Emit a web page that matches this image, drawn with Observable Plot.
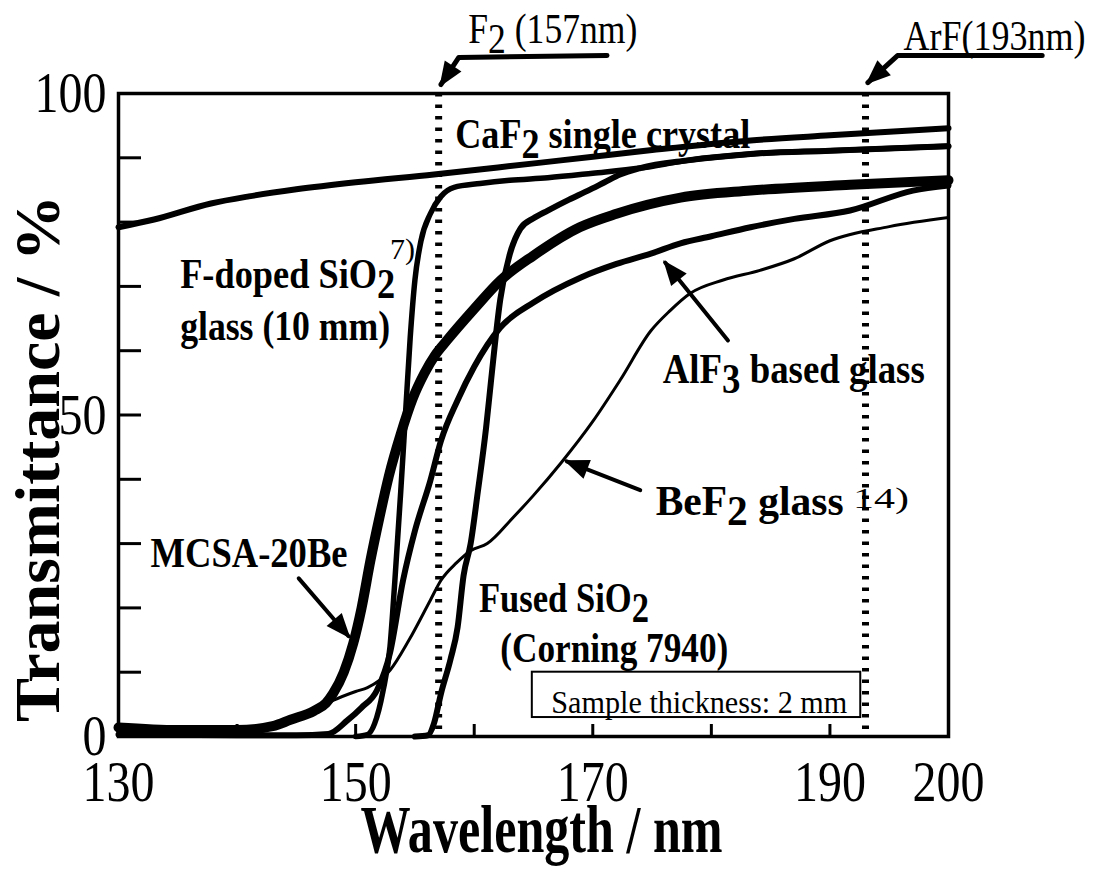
<!DOCTYPE html>
<html>
<head>
<meta charset="utf-8">
<script src="https://cdn.jsdelivr.net/npm/d3@7"></script>
<script src="https://cdn.jsdelivr.net/npm/@observablehq/plot@0.6"></script>
<style>
  html, body { margin: 0; padding: 0; background: #fff; }
  #chart svg { display: block; }
</style>
</head>
<body>
<div id="chart"></div>
<script>
// Vacuum-UV transmittance spectra: wavelength (nm) vs transmittance (%)
const caf2Nm  = [130, 133, 137.8, 141, 145, 150, 156.6, 162, 167.3, 175, 183.3, 190, 200];
const caf2Pct = [79.2, 80.4, 82.9, 84.0, 85.1, 86.2, 87.4, 88.5, 89.6, 91.2, 92.7, 93.5, 94.6];

const fdopedNm  = [150, 151.0, 151.6, 152.3, 152.9, 153.3, 153.8, 154.2, 154.6, 155.0, 155.5, 156.3, 157.2, 158.3, 160.5, 163, 166.2, 170, 174, 178, 183.3, 190, 200];
const fdopedPct = [0, 0.3, 2, 7, 14, 24, 38, 50, 62, 71, 77, 81.3, 84, 85.4, 86.0, 86.5, 86.9, 87.6, 88.4, 89.6, 90.6, 91.1, 91.8];

const fusedNm  = [155, 156.1, 156.6, 157.2, 158.0, 158.6, 159.1, 159.7, 160.3, 161.0, 161.4, 162.2, 163.0, 163.9, 165, 166.2, 168, 169.6, 171, 172.3, 174, 178, 183.3, 190, 200];
const fusedPct = [0, 0.2, 2, 6.7, 12, 17, 25, 30, 38, 48, 55, 68, 75, 79, 80.6, 81.8, 83.5, 84.9, 86.2, 87.4, 88.4, 89.6, 90.6, 91.1, 91.8];

const mcsaNm  = [130, 135, 140, 143, 144.5, 146.5, 147.5, 148.1, 149, 149.8, 150.5, 151.25, 152, 152.8, 153.8, 154.8, 155.8, 156.7, 157.7, 160, 162.2, 165, 168.9, 172, 177.4, 183.3, 191.7, 200];
const mcsaPct = [1.4, 1.0, 1.0, 1.6, 2.6, 4.0, 5.2, 6.7, 10, 14.5, 20, 27.4, 34, 40.5, 47, 52.5, 56.5, 59.3, 61.6, 66.5, 70.9, 74.8, 79.2, 81.3, 83.8, 84.9, 85.8, 86.5];

const alf3Nm  = [130, 140, 145, 147.7, 149.3, 150.5, 151.8, 152.9, 154.0, 155.0, 156.3, 157.2, 158.6, 160, 162.2, 165, 169, 172, 174.9, 177.4, 180, 183.3, 187, 191.7, 197, 200];
const alf3Pct = [0.3, 0.2, 0.2, 0.4, 2.5, 4.5, 7.2, 13, 24.3, 32, 39.8, 46, 52.3, 57.5, 63.6, 67.5, 71.4, 73.5, 75.1, 76.7, 77.8, 79.2, 80.5, 81.8, 84.9, 85.7];

const bef2Nm  = [130, 135, 140, 142.5, 144.3, 146, 148.1, 150, 151.0, 152.9, 154.5, 156.3, 157.2, 158.5, 159.7, 161.1, 163.3, 165, 167.3, 170, 172.3, 174.9, 176.5, 178.2, 181, 184.1, 187, 190, 195, 200];
const bef2Pct = [0.4, 0.2, 0.3, 1.0, 2.5, 3.5, 5.6, 7.0, 7.6, 10.3, 15, 21.2, 24.3, 27, 28.9, 30.0, 34.1, 37.5, 42.5, 49, 55.4, 63.1, 66.2, 68.9, 71, 72.5, 74.3, 77.1, 79.3, 80.7];

// Laser lines (F2 and ArF excimer)
const laserNm = [157, 193];

// Axis ticks
const xTickMarks = [140, 150, 160, 170, 180, 190];
const xTickLabels = [130, 150, 170, 190, 200];
const yTickMarks = [10, 20, 30, 40, 50, 60, 70, 80, 90];
const yTickLabels = [0, 50, 100];

// Axis titles
const xTitle = "Wavelength / nm";
const yTitle = "Transmittance / %";

// Curve labels ("_n" marks a subscript digit)
const labelText = ["CaF_2 single crystal", "F-doped SiO_2", "glass (10 mm)", "AlF_3 based glass", "BeF_2 glass", "MCSA-20Be", "Fused SiO_2", "(Corning 7940)"];
const labelNm  = [158.4, 135.2, 135.2, 175.9, 175.3, 132.7, 160.4, 162.2];
const labelPct = [91.6, 69.7, 61.6, 55.0, 34.4, 26.4, 19.3, 11.6];

// Smaller notes: reference marks, sample note, laser names
const noteText = ["7)", "14)", "Sample thickness: 2 mm", "F_2 (157nm)", "ArF(193nm)"];
const noteNm  = [152.9, 191.95, 166.5, 159.5, 196.2];
const notePct = [74.3, 35.5, 3.7, 107.8, 106.7];

// Box around the sample note
const boxNm = [164.9, 192.6];
const boxPct = [2.95, 10.0];

// Pointer arrows (tail ... head)
const f2ArrowNm = [171.2, 158.7, 157.2], f2ArrowPct = [105.9, 105.6, 101.4];
const arfArrowNm = [207.9, 195.7, 193.2], arfArrowPct = [105.9, 105.9, 101.7];
const alf3ArrowNm = [181.4, 176.1], alf3ArrowPct = [61.6, 73.7];
const bef2ArrowNm = [174.0, 167.8], bef2ArrowPct = [38.3, 42.8];
const mcsaArrowNm = [145.2, 149.4], mcsaArrowPct = [24.6, 15.6];

// ---- styling ----
const serif = '"Liberation Serif", "Times New Roman", Times, serif';
const curveWidth = {caf2: 6, fdoped: 5.5, fused: 6, mcsa: 10, alf3: 6, bef2: 3};
const labelWidth = [295, 215, 210, 262, 188, 197, 170, 228];
const noteSize = [30, 29, 32, 42, 42];
const noteWidth = [25, 56, 296, 169, 182];

const toRows = (nm, pct) => nm.map((x, i) => ({nm: x, pct: pct[i]}));
const curves = [
  ["caf2", caf2Nm, caf2Pct],
  ["fdoped", fdopedNm, fdopedPct],
  ["fused", fusedNm, fusedPct],
  ["alf3", alf3Nm, alf3Pct],
  ["bef2", bef2Nm, bef2Pct],
  ["mcsa", mcsaNm, mcsaPct]
];
const arrows = [
  [f2ArrowNm, f2ArrowPct, 5],
  [arfArrowNm, arfArrowPct, 5],
  [alf3ArrowNm, alf3ArrowPct, 4],
  [bef2ArrowNm, bef2ArrowPct, 4],
  [mcsaArrowNm, mcsaArrowPct, 4]
];

// Filled triangular arrowhead
function solidHead(color) {
  const ns = "http://www.w3.org/2000/svg";
  const m = document.createElementNS(ns, "marker");
  m.setAttribute("viewBox", "-26 -12 30 24");
  m.setAttribute("markerUnits", "userSpaceOnUse");
  m.setAttribute("markerWidth", 30);
  m.setAttribute("markerHeight", 24);
  m.setAttribute("refX", 0);
  m.setAttribute("refY", 0);
  m.setAttribute("orient", "auto");
  m.setAttribute("overflow", "visible");
  const p = document.createElementNS(ns, "path");
  p.setAttribute("d", "M3,0L-22,-10L-22,10Z");
  p.setAttribute("fill", color);
  p.setAttribute("stroke", "none");
  m.appendChild(p);
  return m;
}

const idx = (arr) => arr.map((_, i) => i);

const plot = Plot.plot({
  width: 1093,
  height: 884,
  marginLeft: 118,
  marginRight: 145,
  marginTop: 93,
  marginBottom: 148,
  style: {fontFamily: serif, background: "white", color: "black"},
  x: {domain: [130, 200]},
  y: {domain: [0, 100]},
  marks: [
    Plot.ruleX(laserNm, {stroke: "black", strokeWidth: 7, strokeDasharray: "3.5,8"}),
    ...curves.map(([key, nm, pct]) =>
      Plot.line(toRows(nm, pct), {
        x: "nm", y: "pct", curve: "monotone-x",
        stroke: "black", strokeWidth: curveWidth[key],
        strokeLinejoin: "round", strokeLinecap: "round"
      })
    ),
    Plot.rect([0], {x1: () => boxNm[0], x2: () => boxNm[1], y1: () => boxPct[0], y2: () => boxPct[1],
      fill: "white", stroke: "black", strokeWidth: 2}),
    Plot.frame({stroke: "black", strokeWidth: 3.5}),
    Plot.axisX({ticks: xTickMarks, tickSize: -12, strokeWidth: 3, fill: "none", label: null}),
    Plot.axisX({ticks: xTickLabels, tickSize: 0, tickPadding: 23, fontSize: 58, label: null, tickFormat: d => `${d}`}),
    Plot.axisY({ticks: yTickMarks, tickSize: -23, strokeWidth: 3, fill: "none", label: null}),
    Plot.axisY({ticks: yTickLabels, tickSize: 0, tickPadding: 12, fontSize: 58, label: null, tickFormat: d => `${d}`}),
    Plot.text([yTitle], {
      text: d => d, frameAnchor: "left", rotate: -90, dx: -60, dy: 43.5,
      textAnchor: "middle", lineAnchor: "bottom", fontSize: 64, fontWeight: "bold"
    }),
    Plot.text([xTitle], {
      text: d => d, frameAnchor: "bottom", dx: 8, dy: 115,
      textAnchor: "middle", lineAnchor: "bottom", fontSize: 68, fontWeight: "bold"
    }),
    Plot.text(idx(labelText), {
      x: i => labelNm[i], y: i => labelPct[i], text: i => labelText[i],
      textAnchor: "start", lineAnchor: "bottom", fontSize: 42, fontWeight: "bold"
    }),
    Plot.text(idx(noteText), {
      x: i => noteNm[i], y: i => notePct[i], text: i => noteText[i],
      textAnchor: "start", lineAnchor: "bottom", fontSize: i => noteSize[i]
    }),
    ...arrows.map(([nm, pct, w]) =>
      Plot.line(toRows(nm, pct), {x: "nm", y: "pct", stroke: "black", strokeWidth: w, markerEnd: solidHead})
    )
  ]
});

document.getElementById("chart").appendChild(plot);

// Subscripts and condensed text widths
const NS = "http://www.w3.org/2000/svg";
function richText(el, fs) {
  const str = el.textContent;
  if (!/_\d/.test(str)) return;
  while (el.firstChild) el.removeChild(el.firstChild);
  const shift = 0.24 * fs;
  let lowered = false;
  for (const part of str.split(/(_\d)/)) {
    if (!part) continue;
    const t = document.createElementNS(NS, "tspan");
    if (part[0] === "_") {
      t.textContent = part.slice(1);
      t.setAttribute("dy", shift);
      lowered = true;
    } else {
      t.textContent = part;
      if (lowered) { t.setAttribute("dy", -shift); lowered = false; }
    }
    el.appendChild(t);
  }
}
function fit(el, w) {
  el.setAttribute("textLength", w);
  el.setAttribute("lengthAdjust", "spacingAndGlyphs");
}
const tickTexts = new Set([...xTickLabels, ...yTickLabels].map(String));
plot.querySelectorAll("text").forEach((el) => {
  const s = el.textContent;
  const li = labelText.indexOf(s);
  const ni = noteText.indexOf(s);
  if (li >= 0) { richText(el, 42); fit(el, labelWidth[li]); }
  else if (ni >= 0) { richText(el, noteSize[ni]); fit(el, noteWidth[ni]); }
  else if (s === yTitle) fit(el, 527);
  else if (s === xTitle) fit(el, 362);
  else if (tickTexts.has(s)) fit(el, s.length * 24);
});
</script>
</body>
</html>
